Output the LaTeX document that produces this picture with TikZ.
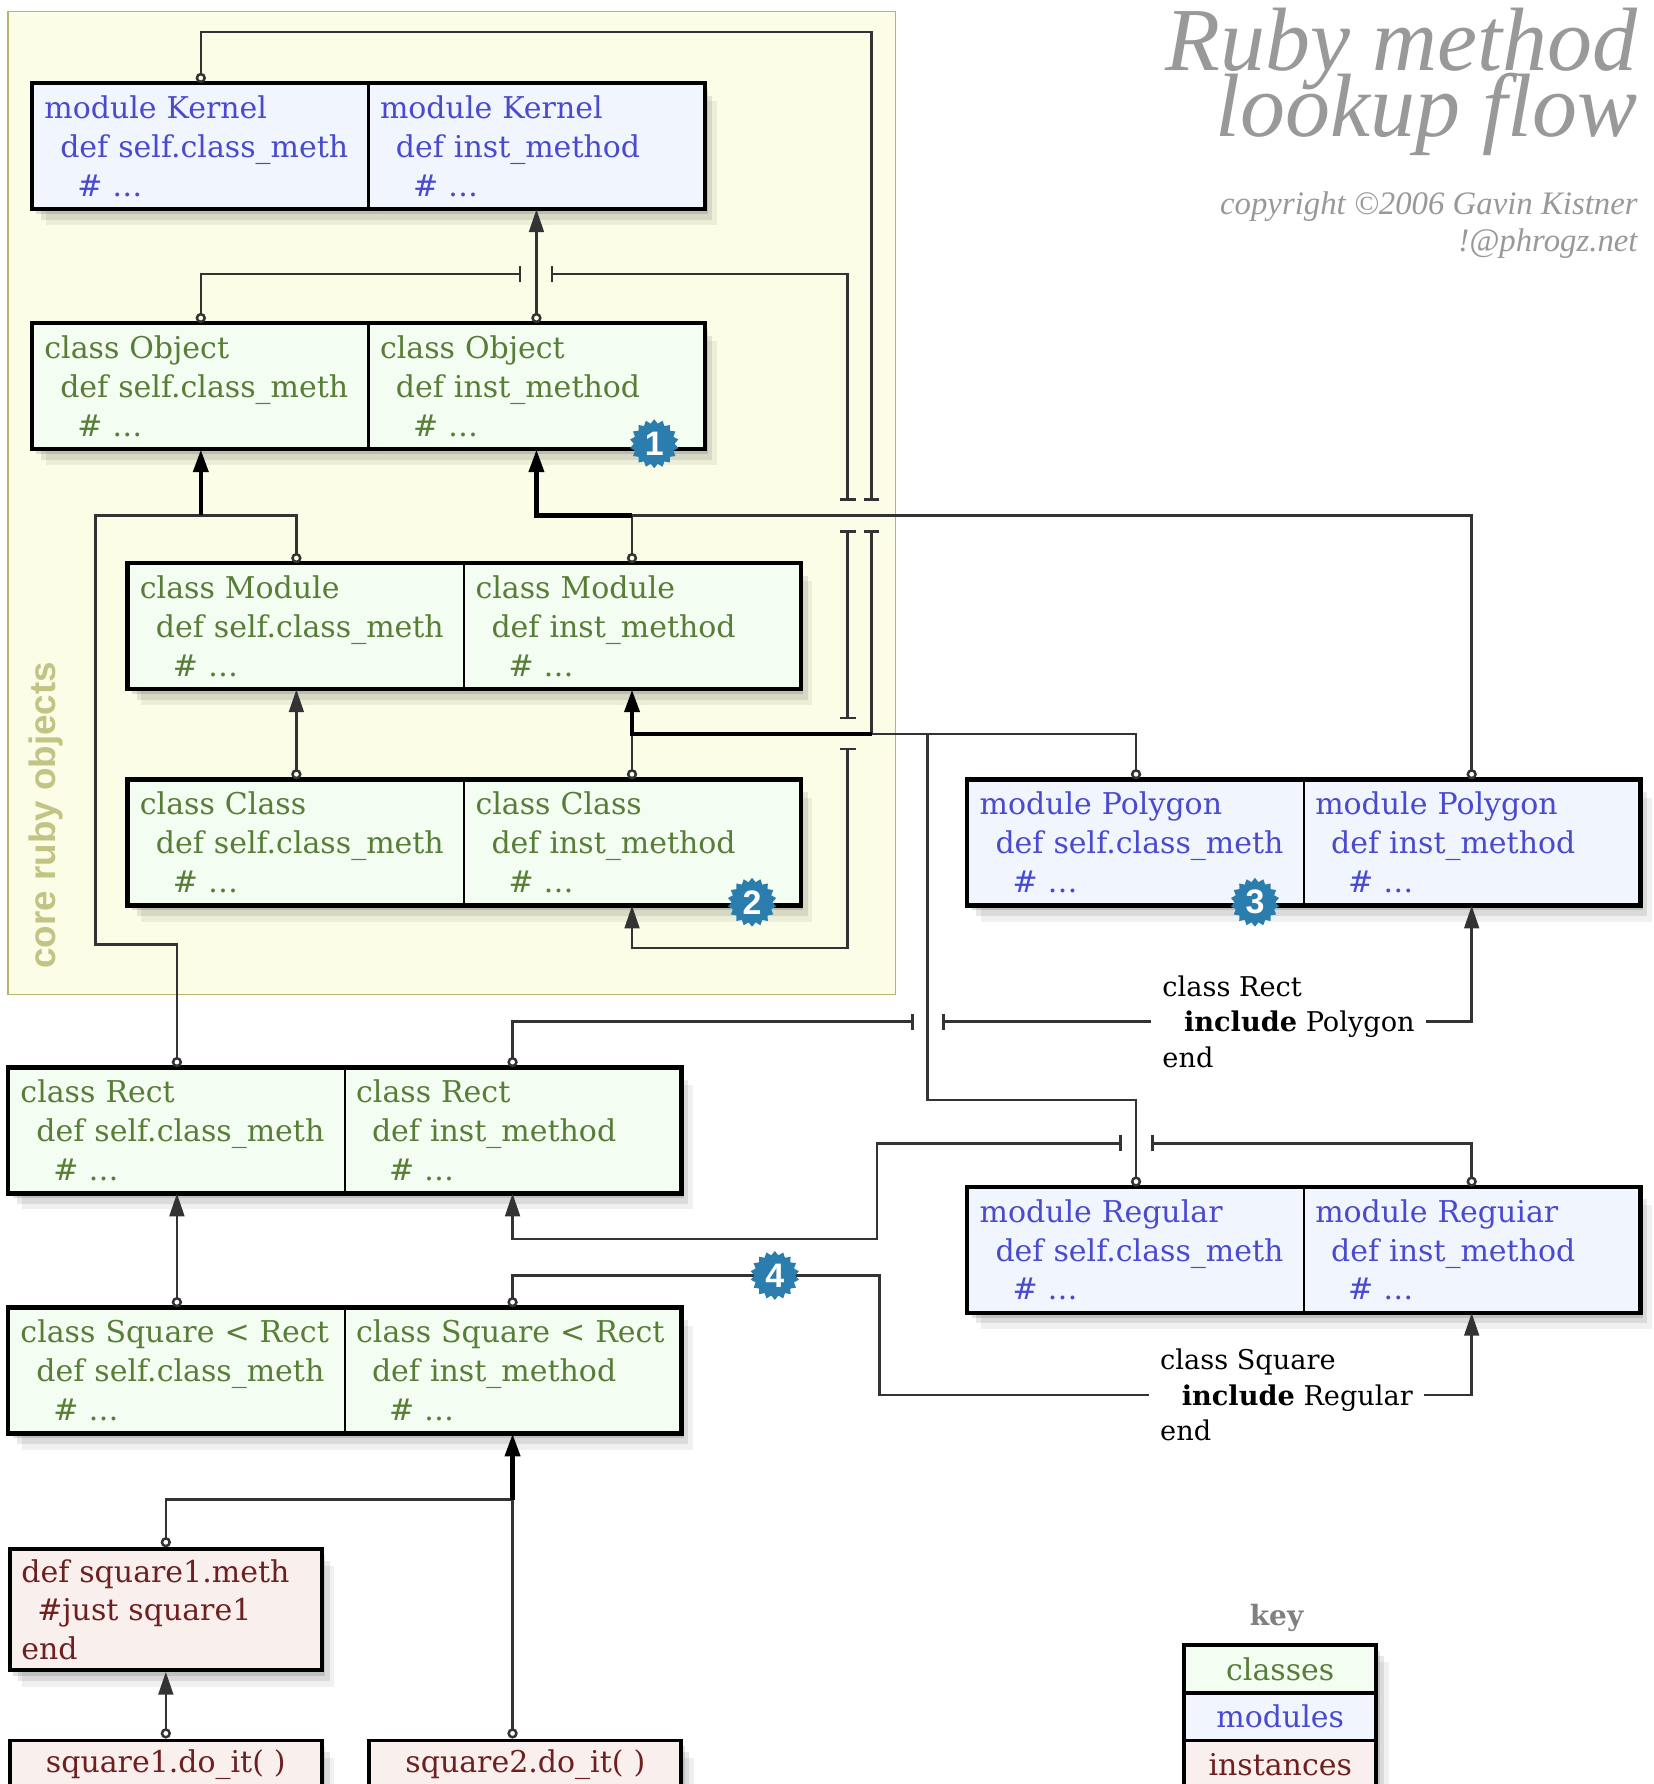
\documentclass[tikz,border=0pt]{standalone}
\usepackage{fontspec}
\setmainfont{DejaVu Serif}
\newfontfamily\titlefont{Liberation Serif}
\newfontfamily\markfont{Liberation Sans}
\usepackage{tikz}
\usetikzlibrary{positioning, arrows.meta, shapes.geometric, shadows}

\definecolor{corefill}{HTML}{FBFDE6}
\definecolor{coreline}{HTML}{B5B56B}
\definecolor{corelabel}{HTML}{C3C386}
\definecolor{clsfill}{HTML}{F3FDF1}
\definecolor{clstext}{HTML}{587D37}
\definecolor{modfill}{HTML}{F0F5FE}
\definecolor{modtext}{HTML}{4A4ACF}
\definecolor{instfill}{HTML}{F9F0EE}
\definecolor{insttext}{HTML}{6E2020}
\definecolor{linkgray}{HTML}{333333}
\definecolor{badgeblue}{HTML}{2B7DAE}
\definecolor{titlegray}{HTML}{999999}

\newcommand{\celltext}{\fontsize{7.5pt}{9.7pt}\selectfont}
\newcommand{\titletext}{\titlefont\itshape\fontsize{22.5pt}{16.5pt}\selectfont\lineskiplimit=-50pt\relax}
\newcommand{\rubydef}[2]{\mbox{#1}\\\hspace*{1.4mm}\mbox{def #2}\\\hspace*{2.9mm}\# \ldots}

\tikzset{
  opn/.tip={Circle[open, length=0.9mm]},
  tri/.tip={Triangle[length=2mm, width=1.3mm]},
  brk/.tip={Bar[width=1.4mm]},
  soft/.style={drop shadow={shadow xshift=0.3mm, shadow yshift=-0.5mm, opacity=0.12, fill=black},
    drop shadow={shadow xshift=0.7mm, shadow yshift=-1.0mm, opacity=0.09, fill=black},
    drop shadow={shadow xshift=1.1mm, shadow yshift=-1.5mm, opacity=0.06, fill=black}},
  cell/.style={draw=black, line width=0.2mm, minimum width=29.5mm, minimum height=10.9mm,
    text width=27.5mm, inner xsep=1mm, inner ysep=0pt, align=left, anchor=north west,
    font=\celltext, soft},
  cls/.style={cell, fill=clsfill, text=clstext},
  mdl/.style={cell, fill=modfill, text=modtext},
  inst/.style={cell, fill=instfill, text=insttext, line width=0.35mm, minimum width=27.4mm, text width=25.4mm},
  call/.style={inst, minimum height=4.2mm, align=center},
  keybox/.style={cell, line width=0.35mm, minimum width=16.9mm, text width=14.9mm, minimum height=4.2mm, align=center},
  frame/.style={draw=black, line width=0.35mm},
  link/.style={draw=linkgray, line width=0.22mm},
  trunk/.style={draw=black, line width=0.4mm},
  lbl/.style={anchor=west, align=left, fill=white, inner xsep=1mm, inner ysep=0.5mm, font=\fontsize{6.8pt}{8.8pt}\selectfont},
  badge/.style={star, star points=18, star point ratio=1.2, minimum size=4.3mm, inner sep=0pt,
    fill=badgeblue, text=white, font=\markfont\bfseries\fontsize{8.5pt}{8.5pt}\selectfont},
}

\begin{document}
\begin{tikzpicture}[x=0.1mm, y=-0.1mm]
\useasboundingbox (0,0) rectangle (1453,1568);
\clip (0,0) rectangle (1453,1568);

% core ruby objects area
\draw[draw=coreline, fill=corefill, line width=0.15mm] (7,10) rectangle (787,874);
\node[rotate=90, anchor=west, inner sep=0pt, text=corelabel, font=\markfont\bfseries\fontsize{9.2pt}{9.2pt}\selectfont] (coreLbl) at (40,852) {core ruby objects};

% title
\node[anchor=north east, align=right, inner sep=0pt, text=titlegray, font=\titletext] (title) at (1440,6) {Ruby method\\lookup flow};
\node[anchor=north east, align=right, inner sep=0pt, text=titlegray,
  font=\titlefont\itshape\fontsize{8.2pt}{9.25pt}\selectfont] (credit) at (1440,168) {copyright \textcopyright2006 Gavin Kistner\\!@phrogz.net};

% class and module pairs
\node[mdl] (kernL) at (28,73) {\rubydef{module Kernel}{self.class\_meth}};
\node[mdl] (kernR) at (323,73) {\rubydef{module Kernel}{inst\_method}};
\node[cls] (objL) at (28,284) {\rubydef{class Object}{self.class\_meth}};
\node[cls] (objR) at (323,284) {\rubydef{class Object}{inst\_method}};
\node[cls] (modL) at (112,495) {\rubydef{class Module}{self.class\_meth}};
\node[cls] (modR) at (407,495) {\rubydef{class Module}{inst\_method}};
\node[cls] (clsL) at (112,685) {\rubydef{class Class}{self.class\_meth}};
\node[cls] (clsR) at (407,685) {\rubydef{class Class}{inst\_method}};
\node[mdl] (polyL) at (850,685) {\rubydef{module Polygon}{self.class\_meth}};
\node[mdl] (polyR) at (1145,685) {\rubydef{module Polygon}{inst\_method}};
\node[cls] (rectL) at (7,938) {\rubydef{class Rect}{self.class\_meth}};
\node[cls] (rectR) at (302,938) {\rubydef{class Rect}{inst\_method}};
\node[mdl] (regL) at (850,1043) {\rubydef{module Regular}{self.class\_meth}};
\node[mdl] (regR) at (1145,1043) {\rubydef{module Reguiar}{inst\_method}};
\node[cls] (sqL) at (7,1149) {\rubydef{class Square < Rect}{self.class\_meth}};
\node[cls] (sqR) at (302,1149) {\rubydef{class Square < Rect}{inst\_method}};
\foreach \p in {kern,obj,mod,cls,poly,rect,reg,sq}
  \draw[frame] (\p L.north west) rectangle (\p R.south east);

% instances
\node[inst, minimum height=10.6mm] (sqMeth) at (7,1360) {def square1.meth\\\hspace*{1.4mm}\#just square1\\end};
\node[call] (sq1Call) at (7,1528) {square1.do\_it( )};
\node[call] (sq2Call) at (323,1528) {square2.do\_it( )};

% key
\node[text=gray, font=\bfseries\fontsize{7pt}{8pt}\selectfont] (keyLbl) at (1122,1422) {key};
\node[keybox, fill=clsfill, text=clstext] (keyCls) at (1039,1444) {classes};
\node[keybox, fill=modfill, text=modtext] (keyMod) at (1039,1486) {modules};
\node[keybox, fill=instfill, text=insttext] (keyInst) at (1039,1528) {instances};

% bends, junctions and line breaks
\coordinate (kTop) at (766,28);
\coordinate (kGapA) at (766,440);
\coordinate (kGapB) at (766,466);
\coordinate (oGapA) at (458,241);
\coordinate (oGapB) at (484,241);
\coordinate (oRailA) at (745,440);
\coordinate (oRailB) at (745,466);
\coordinate (oRailC) at (745,632);
\coordinate (oRailD) at (745,657);
\coordinate (oBot) at (745,833);
\coordinate (jObjL) at (objL.south |- 0,453);
\coordinate (jObjR) at (modR.north |- 0,453);
\coordinate (jModA) at (766,645);
\coordinate (rRail) at (84,830);
\coordinate (gRail) at (815,967);
\coordinate (rGapA) at (803,898);
\coordinate (rGapB) at (828,898);
\coordinate (gGapA) at (1012,1005);
\coordinate (gGapB) at (986,1005);
\coordinate (rgRail) at (771,1089);
\coordinate (sRailA) at (773,1121);
\coordinate (sRailB) at (773,1226);
\coordinate (jSq) at (sqR.south |- 0,1318);

% lookup connectors
\draw[link, opn-brk] (kernL.north) |- (kTop) -- (kGapA);
\draw[link, brk-] (kGapB) -- (jModA);
\draw[link, opn-brk] (objL.north) |- (oGapA);
\draw[link, brk-brk] (oGapB) -| (oRailA);
\draw[link, brk-brk] (oRailB) -- (oRailC);
\draw[link, brk-tri] (oRailD) -- (oBot) -| (clsR.south);
\draw[link, opn-tri] (objR.north) -- (kernR.south);
\draw[link, opn-] (modL.north) |- (jObjL);
\draw[link, opn-] (rectL.north) |- (rRail) |- (jObjL);
\draw[trunk, -tri] (jObjL) -- (objL.south);
\draw[link, opn-] (modR.north) -- (jObjR);
\draw[link, opn-] (polyR.north) |- (jObjR);
\draw[trunk, -tri] (jObjR) -| (objR.south);
\draw[link, opn-tri] (clsL.north) -- (modL.south);
\draw[link, opn-] (clsR.north) -- (clsR.north |- jModA);
\draw[link, opn-] (polyL.north) |- (jModA);
\draw[link, opn-] (regL.north) |- (gRail) |- (jModA);
\draw[trunk, -tri] (jModA) -| (modR.south);
\draw[link, opn-brk] (rectR.north) |- (rGapA);
\draw[link, brk-tri] (rGapB) -| (polyR.south);
\draw[link, opn-brk] (regR.north) |- (gGapA);
\draw[link, brk-tri] (gGapB) -| (rgRail) -| (rectR.south);
\draw[link, opn-tri] (sqL.north) -- (rectL.south);
\draw[link, opn-tri] (sqR.north) |- (sRailA) -- (sRailB) -| (regR.south);
\draw[link, opn-] (sqMeth.north) |- (jSq);
\draw[link, opn-] (sq2Call.north -| jSq) -- (jSq);
\draw[trunk, -tri] (jSq) -- (sqR.south);
\draw[link, opn-tri] (sq1Call.north) -- (sqMeth.south);

% include labels
\node[lbl] (lblRect) at (1011,898) {class Rect\\\hspace*{1.9mm}\textbf{include} Polygon\\end};
\node[lbl] (lblSq) at (1009,1226) {class Square\\\hspace*{1.9mm}\textbf{include} Regular\\end};

% numbered badges
\node[badge] (b1) at (575,390) {1};
\node[badge] (b2) at (661,793) {2};
\node[badge] (b3) at (1103,793) {3};
\node[badge] (b4) at (681,1121) {4};
\end{tikzpicture}
\end{document}
